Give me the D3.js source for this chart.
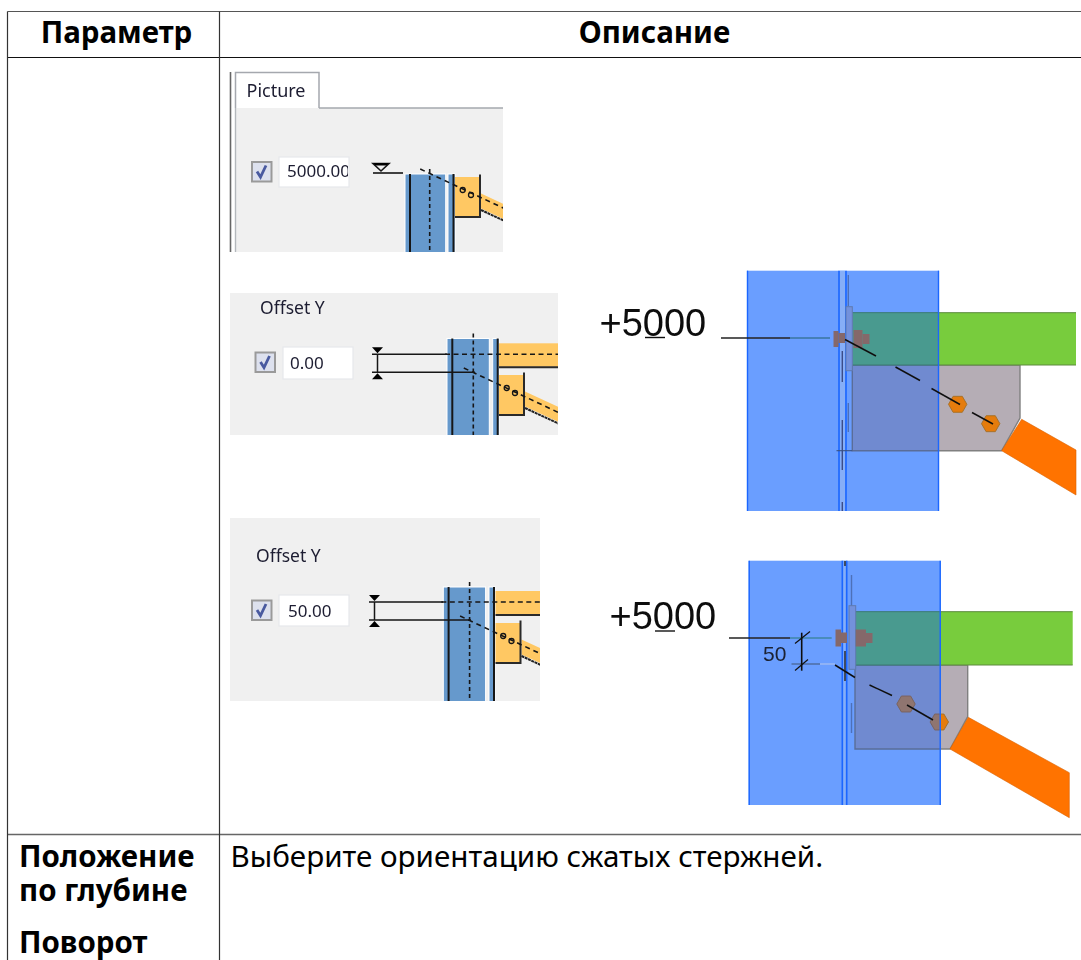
<!DOCTYPE html>
<html><head><meta charset="utf-8">
<style>html,body{margin:0;padding:0;background:#fff;overflow:hidden}svg{display:block}</style>
<script src="https://cdnjs.cloudflare.com/ajax/libs/d3/7.8.5/d3.min.js"></script></head>
<body><div id="c"></div>
<script>
// ---- content ----
const tableHeaders = ["Параметр", "Описание"];
const paramLabels = ["Положение", "по глубине", "Поворот"];
const descriptionText = "Выберите ориентацию сжатых стержней.";
const tabLabel = "Picture";
const fieldLabel = "Offset Y";
const fieldValues = ["5000.00", "0.00", "50.00"];
const elevationLabel = "+5000";
const offsetLabel = "50";

const W = 1081, H = 960;
const FONT = "'Noto Sans','Open Sans',sans-serif";
const svg = d3.select("#c").append("svg").attr("width", W).attr("height", H).attr("viewBox", [0,0,W,H]);
const defs = svg.append("defs");
defs.append("filter").attr("id","soft").attr("x","-5%").attr("y","-5%").attr("width","110%").attr("height","110%")
  .append("feGaussianBlur").attr("stdDeviation",0.45);
const line = d3.line();

function rect(g,x0,y0,x1,y1,fill,stroke,sw){
  return g.append("rect").attr("x",x0).attr("y",y0).attr("width",x1-x0).attr("height",y1-y0)
    .attr("fill",fill||"none").attr("stroke",stroke||"none").attr("stroke-width",sw||1);
}
function seg(g,pts,stroke,sw,dash){
  const p=g.append("path").attr("d",line(pts)).attr("fill","none").attr("stroke",stroke).attr("stroke-width",sw||1);
  if(dash)p.attr("stroke-dasharray",dash);
  return p;
}
function poly(g,pts,fill,stroke,sw){
  return g.append("path").attr("d",line(pts)+"Z").attr("fill",fill).attr("stroke",stroke||"none").attr("stroke-width",sw||1);
}
function txt(g,x,y,s,size,opt){
  opt=opt||{};
  return g.append("text").attr("x",x).attr("y",y).text(s).attr("font-family",opt.family||FONT)
    .attr("font-size",size).attr("font-weight",opt.weight||400).attr("fill",opt.fill||"#000")
    .attr("text-anchor",opt.anchor||"start");
}
function clipId(id,x0,y0,x1,y1){
  defs.append("clipPath").attr("id",id).append("rect").attr("x",x0).attr("y",y0).attr("width",x1-x0).attr("height",y1-y0);
  return `url(#${id})`;
}

// ---- table ----
const tbl = svg.append("g");
const colX = d3.scaleOrdinal(["left","mid","right"],[7.5,219.5,W]);
const rowY = d3.scaleOrdinal(["top","head","row","bottom"],[11.5,57.5,834.5,H]);
seg(tbl,[[colX("left"),rowY("top")],[W,rowY("top")]],"#555",1.2);
seg(tbl,[[colX("left"),rowY("head")],[W,rowY("head")]],"#111",1.2);
seg(tbl,[[colX("left"),rowY("row")],[W,rowY("row")]],"#666",1.6);
seg(tbl,[[colX("left"),rowY("top")],[colX("left"),H]],"#333",1.2);
seg(tbl,[[colX("mid"),rowY("top")],[colX("mid"),H]],"#333",1.2);
txt(tbl,116.5,43,tableHeaders[0],29.5,{weight:700,anchor:"middle"});
txt(tbl,654.5,43,tableHeaders[1],29.5,{weight:700,anchor:"middle"});
tbl.selectAll("text.p").data(paramLabels).join("text").attr("class","p")
  .attr("x",19).attr("y",(d,i)=>[867,901,952.5][i]).text(d=>d)
  .attr("font-family",FONT).attr("font-size",29.5).attr("font-weight",700);
txt(tbl,230.5,867,descriptionText,29.6);

// ---- dialog pictures ----
const pics = svg.append("g").attr("filter","url(#soft)");
const PANEL="#f0f0f0", BLUE="#6699cc", YEL="#ffc864", INK="#161616", TEXTC="#1c1c30";

function checkField(g,cx,cy,ix0,iy0,ix1,iy1,tx,ty,val){
  rect(g,cx+.5,cy+.5,cx+20,cy+20,"#dde1ee","#9a9a9a",2);
  seg(g,[[cx+5.5,cy+10],[cx+9,cy+15.5],[cx+14.5,cy+4]],"#4a5aa0",2.8);
  rect(g,ix0,iy0,ix1,iy1,"#fff","#e6e8ec",1.2);
  if(val){const c=g.append("g").attr("clip-path",clipId("cv"+val.length,ix0+1,iy0,ix1-1,iy1));
    txt(c,tx,ty,val,17,{fill:TEXTC});}
}
function detail(g,o){
  const d=o.col, gx=o.gx, gy=o.gy, x1=o.right, a=o.off;
  const cp=clipId(o.id,o.x0,o.y0,x1,o.y1);
  const c=g.append("g").attr("clip-path",cp);
  rect(c,d,o.colTop,d+a[0],o.y1+2,BLUE,"#fff",1);
  rect(c,d+a[1],o.colTop,d+a[2],o.y1+2,BLUE,"#fff",1);
  seg(c,[[d+a[3],o.colTop],[d+a[3],o.y1]],INK,2);
  seg(c,[[d+a[4],o.colTop],[d+a[4],o.y1]],INK,2);
  seg(c,[[d+a[5],o.colTop-5],[d+a[5],o.y1]],INK,1.6,"4 3");
  // brace
  poly(c,[[gx+26,gy+16.5],[gx+80,gy+41.5],[gx+80,gy+56.5],[gx+26,gy+31.5]],YEL);
  seg(c,[[gx+26,gy+33],[gx+80,gy+58]],"#222",2,"3 .6");
  // gusset
  rect(c,gx,gy,gx+24.5,gy+39.7,YEL);
  seg(c,[[gx+25,gy-2.5],[gx+25,gy+40],[gx,gy+40]],"#2a2a2a",2);
  c.selectAll("circle.b").data([0,1]).join("circle").attr("class","b")
    .attr("cx",i=>gx+7.7+i*8.3).attr("cy",i=>gy+13+i*5).attr("r",2.5)
    .attr("fill","none").attr("stroke",INK).attr("stroke-width",1.3);
  const sx=d+a[5]-9.5;
  seg(c,[[sx,o.lowY-4],[sx+110,o.lowY-4+110*.47]],INK,1.6,"5 4");
  if(o.beamY!==undefined){
    rect(c,gx,o.beamY-11,x1,o.beamY+12.5,YEL);
    seg(c,[[gx,o.beamY+13],[x1,o.beamY+13]],"#2a2a2a",2);
    seg(c,[[d-2,o.beamY],[x1,o.beamY]],INK,1.6,"5 3.5");
  }
}
function dimSymbol(g,x,yTop,yLow,x1Top,x1Low){
  const m=x+5.5;
  poly(g,[[x,yTop-7],[x+11,yTop-7],[m,yTop-1]],"#000");
  poly(g,[[x,yLow+7],[x+11,yLow+7],[m,yLow+1]],"#000");
  seg(g,[[m,yTop],[m,yLow]],INK,1.5);
  seg(g,[[x,yTop],[x1Top,yTop]],INK,1.6);
  seg(g,[[x,yLow],[x1Low,yLow]],INK,1.6);
}

// Picture tab panel
{
  const g=pics.append("g");
  rect(g,236,108,503,252,PANEL);
  seg(g,[[230.5,72],[230.5,252]],"#666",1.6);
  seg(g,[[235.5,108],[235.5,252]],"#b4b8bc",1.4);
  seg(g,[[319,108],[503,108]],"#a5a8ae",1.5);
  g.append("path").attr("d",line([[235.5,108],[235.5,72.5],[319,72.5],[319,108]])).attr("fill","#fff").attr("stroke","#a5a8ae").attr("stroke-width",1.5);
  txt(g,246.5,97,tabLabel,18,{fill:TEXTC});
  checkField(g,251.5,161.5,279,157,349,187,287,177,fieldValues[0]);
  detail(g,{id:"d1",col:405,off:[40.7,43,50,5,48.5,24.7],x0:236,y0:108,right:503,y1:252,colTop:174,gx:455,gy:177,lowY:173});
  poly(g,[[373,163.5],[389,163.5],[381,171]],"none",INK,1.6);
  poly(g,[[373,163],[389,163],[386.5,165.5],[375.5,165.5]],"#000");
  seg(g,[[373,173],[403,173]],INK,1.6);
}
// Offset panels
[
 {id:"d2",px:[230,558],py:[293,435],lx:260,ly:313.5,cx:255,cy:352,inp:[283,347,353,379],vx:290,vy:368.5,val:fieldValues[1],
  col:447,colTop:338.5,gx:499,gy:375,lowY:372,beamY:354.3,sx:372,yT:354.3,yL:372.3,xT:447,xL:475},
 {id:"d3",px:[230,540],py:[518,701],lx:256,ly:561.5,cx:251.5,cy:600,inp:[279,595,349,626],vx:288,vy:616.5,val:fieldValues[2],
  col:443.3,colTop:587,gx:495.5,gy:623,lowY:620,beamY:602,sx:369,yT:602,yL:620,xT:443,xL:471}
].forEach(p=>{
  const g=pics.append("g");
  rect(g,p.px[0],p.py[0],p.px[1],p.py[1],PANEL);
  txt(g,p.lx,p.ly,fieldLabel,17.5,{fill:TEXTC});
  checkField(g,p.cx,p.cy,p.inp[0],p.inp[1],p.inp[2],p.inp[3],p.vx,p.vy,p.val);
  detail(g,{id:p.id,col:p.col,off:[42.3,45.7,52,5.3,50.7,26.3],x0:p.px[0],y0:p.py[0],right:p.px[1],y1:p.py[1],colTop:p.colTop,gx:p.gx,gy:p.gy,lowY:p.lowY,beamY:p.beamY});
  dimSymbol(g,p.sx,p.yT,p.yL,p.xT,p.xL);
});

// ---- connection drawings ----
const GREEN="#78cc3c",TEAL="#4a9a8f",COLB="#6b9eff",EDGE="#1a66ff",GUS="#b5adb5",GUSB="#6f8ad0",ORANGE="#ff7300",BOLT="#85686a";
function drawing(o){
  const g=pics.append("g");
  const [bx0,by0,bx1,by1]=o.blue;
  poly(g,o.gusset,GUS,"#808080",1.4);
  poly(g,o.brace,ORANGE,"#d96200",.6);
  rect(g,o.beam[0],o.beam[1],o.beam[2],o.beam[3],GREEN);
  seg(g,[[o.beam[0],o.beam[1]],[o.beam[2],o.beam[1]]],"#5d8a3c",1);
  seg(g,[[o.beam[0],o.beam[3]],[o.beam[2],o.beam[3]]],"#5d8a3c",1);
  const hex=d3.range(6).map(i=>i*Math.PI/3);
  const hexPts=(c,r)=>hex.map(a=>[c[0]+r*Math.cos(a),c[1]+r*Math.sin(a)]);
  o.hex.forEach(c=>poly(g,hexPts(c,9.2),"#e57c0a","#a8722c",1));
  rect(g,bx0,by0,bx1,by1,COLB);
  const c=g.append("g").attr("clip-path",clipId(o.id,bx0,by0,bx1,by1));
  poly(c,o.gusset,GUSB,"#5a6d98",1.4);
  rect(c,o.beam[0],o.beam[1],o.beam[2],o.beam[3],TEAL);
  seg(c,[[o.beam[0],o.beam[1]],[o.beam[2],o.beam[1]]],"#3b7a70",1);
  seg(c,[[o.beam[0],o.beam[3]],[o.beam[2],o.beam[3]]],"#3b7a70",1);
  if(o.brownHex) o.hex.forEach(h=>poly(c,hexPts(h,9.2),"#8f7470","#7a6460",1));
  seg(g,[[bx0+.5,by0],[bx0+.5,by1]],EDGE,1.4);
  seg(g,[[bx1-.5,by0],[bx1-.5,by1]],EDGE,1.4);
  rect(g,o.web[0]+1,by0,o.web[1]-1,by1,"#86aef7");
  seg(g,[[o.web[0],by0],[o.web[0],by1]],EDGE,1.6);
  seg(g,[[o.web[1],by0],[o.web[1],by1]],EDGE,1.6);
  o.webDash.forEach(s=>seg(g,[[s[0],s[1]],[s[0],s[2]]],s[3]||"#3a4e88",1.4));
  rect(g,o.plate[0],o.plate[1],o.plate[2],o.plate[3],"#7391dc","#5f7ab0",1);
  o.bolts.forEach(b=>rect(g,b[0],b[1],b[2],b[3],BOLT));
  o.dash.forEach(s=>seg(g,s,"#111",1.5));
  o.lead.forEach(s=>seg(g,s[0],s[1],s[2]||1.2));
  txt(g,o.label[0],o.label[1],elevationLabel,38,{family:"'Liberation Sans',Arial,sans-serif",fill:"#111"});
  seg(g,o.under,"#111",1.4);
  return g;
}
drawing({id:"a",blue:[747,270.7,939,511],beam:[852.3,312.7,1076,365],
  gusset:[[852.3,365],[1020,365],[1020,418],[1001.7,450.7],[852.3,450.7]],
  brace:[[1021.7,419.3],[1076,450],[1076,495],[1001.7,450.7]],
  hex:[[957.7,404.3],[990.7,423.7]],web:[839,846],
  webDash:[[842.3,351,382],[842.3,420,470],[848.3,275,306,"#4d6fb8"],[848.3,403,432,"#4d6fb8"],[842.3,502,511]],
  plate:[846,306.7,852.3,370.7],
  bolts:[[833.5,331,838.5,347],[838.5,333,845,343],[853.5,330,862.5,348],[862.5,334,869.5,344]],
  dash:[[[845,339.5],[876,356]],[[895.5,367],[920,380.5]],[[931.5,388.5],[960,404.5]],[[972,412.5],[993,424]]],
  lead:[[[[721,338],[790,338]],"#222",1.5],[[[790,338],[830,338]],"#1f6070",1.2],[[[836.5,450.7],[852.3,450.7]],"#3a5080",1.1]],
  label:[599.5,336],under:[[645,337.5],[665,337.5]]});
const bGroup=drawing({id:"b",blue:[748.7,560.7,940.7,805],beam:[855,611.7,1072.7,665],
  gusset:[[855,665],[967.7,665],[967.7,716.7],[950,749],[855,749]],
  brace:[[968.3,717.3],[1069.3,772.7],[1069.3,817.7],[950,749]],
  hex:[[906,704],[939.3,722]],brownHex:true,web:[842.3,846.7],
  webDash:[[851.5,575,606,"#4d6fb8"],[851.5,703,733,"#4d6fb8"],[845,651,681,"#222"],[845,561,566,"#222"]],
  plate:[849,605.7,855.7,669.3],
  bolts:[[835.5,629.5,841,646.5],[841,632.5,847,643],[855.7,629.5,866,646.5],[866,633,872.5,643]],
  dash:[[[835,665],[855,677.5]],[[869.5,685],[892,695.5]],[[907,705],[933,720]]],
  lead:[[[[729,638],[790,638]],"#222",1.5],[[[790,638],[831.7,638]],"#2a7a7a",1.1],[[[791.5,664],[820,664]],"#47618a",1.2],[[[820,664],[835,664]],"#a8c0f0",1.2]],
  label:[609.5,629],under:[[655,631],[675,631]]});
seg(bGroup,[[801.7,632.7],[801.7,670.7]],"#111",1.6);
seg(bGroup,[[795,643.5],[810,631.5]],"#111",1.2);
seg(bGroup,[[795,670.5],[808,659.5]],"#111",1.2);
txt(bGroup,763,661,offsetLabel,21,{family:"'Liberation Sans',Arial,sans-serif",fill:"#1a2030"});
</script></body></html>
